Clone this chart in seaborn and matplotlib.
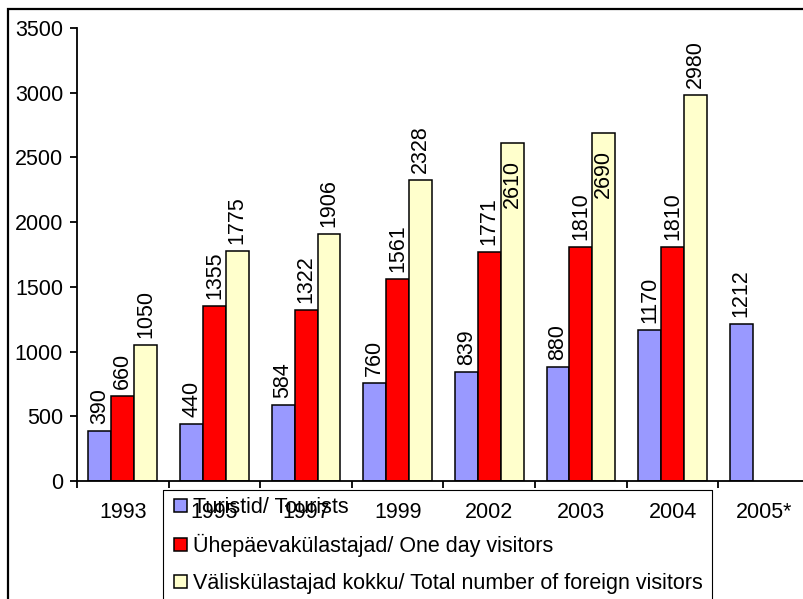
import numpy as np
import pandas as pd
import matplotlib
matplotlib.use("Agg")
import matplotlib.pyplot as plt
import seaborn as sns
from matplotlib.patches import Rectangle
from matplotlib.lines import Line2D

# ---- data ----
years = ['1993', '1995', '1997', '1999', '2002', '2003', '2004', '2005*']
tourists = [390, 440, 584, 760, 839, 880, 1170, 1212]
one_day = [660, 1355, 1322, 1561, 1771, 1810, 1810, np.nan]
total = [1050, 1775, 1906, 2328, 2610, 2690, 2980, np.nan]
series = ['Turistid/ Tourists',
          'Ühepäevakülastajad/ One day visitors',
          'Väliskülastajad kokku/ Total number of foreign visitors']
colors = ['#9999FF', '#FF0000', '#FFFFCC']
yticks = [0, 500, 1000, 1500, 2000, 2500, 3000, 3500]

rows = []
for s, vals in zip(series, [tourists, one_day, total]):
    for y, v in zip(years, vals):
        if not pd.isna(v):
            rows.append({'year': y, 'series': s, 'value': v})
df = pd.DataFrame(rows)

sns.set_theme(style='white')
plt.rcParams['font.family'] = ['Liberation Sans', 'DejaVu Sans']
plt.rcParams['text.color'] = 'black'

FS = 15.5
W, H = 804, 599
fig = plt.figure(figsize=(W / 100, H / 100), dpi=100)
ax = fig.add_axes([77 / W, 1 - 481 / H, 733 / W, 453 / H])

sns.barplot(data=df, x='year', y='value', hue='series', order=years,
            hue_order=series, palette=colors, width=0.75, gap=0,
            saturation=1, edgecolor='black', linewidth=1.1,
            errorbar=None, legend=False, ax=ax)

ax.set_xlim(-0.5, len(years) - 0.5)
ax.set_ylim(0, 3500)
ax.set_yticks(yticks)
ax.set_yticklabels([str(t) for t in yticks])
ax.set_xticks(range(len(years)))
ax.set_xticklabels(years)
ax.set_xticks(np.arange(-0.5, len(years), 1), minor=True)
ax.set_xlabel('')
ax.set_ylabel('')

for side in ['top', 'right']:
    ax.spines[side].set_visible(False)
for side in ['left', 'bottom']:
    ax.spines[side].set_color('black')
    ax.spines[side].set_linewidth(1.3)

ax.tick_params(axis='y', which='major', direction='out', length=5, width=1.3,
               color='black', left=True, labelsize=FS, pad=5, labelcolor='black')
ax.tick_params(axis='x', which='major', length=0, labelsize=FS, pad=15,
               labelcolor='black')
ax.tick_params(axis='x', which='minor', direction='out', length=5, width=1.3,
               color='black', bottom=True)

# value labels
inside_labels = {('2002', 2), ('2003', 2)}
for si, cont in enumerate(ax.containers):
    for bar in cont:
        h = bar.get_height()
        if pd.isna(h) or h == 0:
            continue
        xc = bar.get_x() + bar.get_width() / 2
        cat = years[int(round(xc))]
        label = f'{int(h)}'
        if (cat, si) in inside_labels:
            ax.annotate(label, (xc, h), xytext=(0, -12), textcoords='offset points',
                        rotation=90, ha='center', va='top', fontsize=FS, color='black')
        else:
            ax.annotate(label, (xc, h), xytext=(0, 5), textcoords='offset points',
                        rotation=90, ha='center', va='bottom', fontsize=FS, color='black')

# legend (transparent, overlapping tick labels as in the reference)
handles = [Rectangle((0, 0), 1, 1, facecolor=c, edgecolor='black', linewidth=1.1)
           for c in colors]
fig.legend(handles, series, loc='upper left',
           bbox_to_anchor=(174 / W, 1 - 497 / H), bbox_transform=fig.transFigure,
           frameon=False, fontsize=FS, handlelength=0.6, handleheight=0.6,
           handletextpad=0.3, labelspacing=0.74, borderpad=0, borderaxespad=0,
           labelcolor='black')
lx0, lx1, ly = 163 / W, 712 / W, 1 - 490 / H
for xs, ys in [([lx0, lx1], [ly, ly]), ([lx0, lx0], [ly, -0.1]), ([lx1, lx1], [ly, -0.1])]:
    fig.add_artist(Line2D(xs, ys, transform=fig.transFigure, color='black', lw=0.8))

# outer chart frame
fig.add_artist(Rectangle((8 / W, -0.5), 2, 1 - 9 / H + 0.5, transform=fig.transFigure,
                         fill=False, edgecolor='black', linewidth=1.6))

fig.savefig('out.png', dpi=100, facecolor='white')
